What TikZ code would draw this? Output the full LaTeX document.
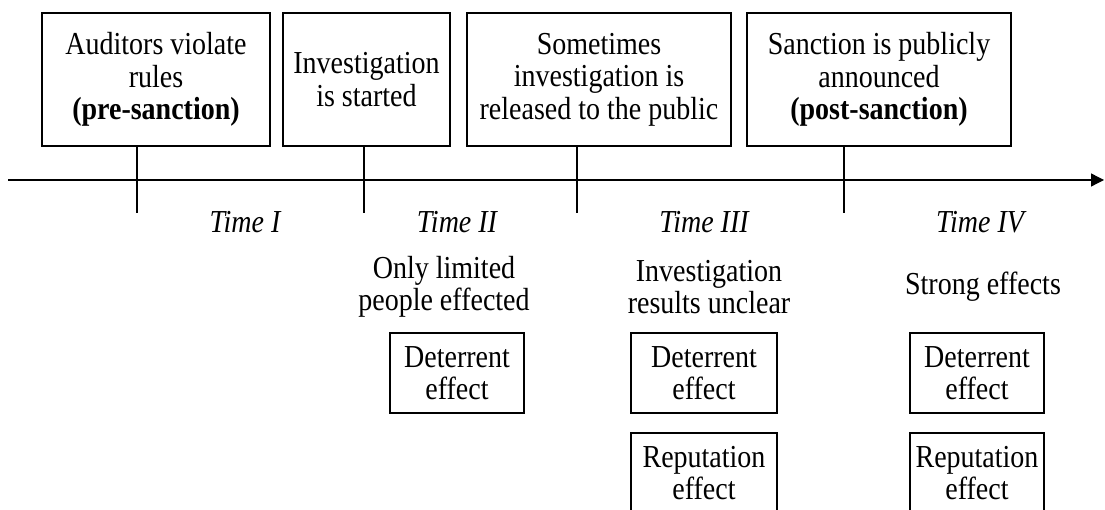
\documentclass[tikz,border=0pt]{standalone}
\usepackage{fontspec}
\setmainfont{Liberation Serif}[FakeStretch=0.875]
\usetikzlibrary{arrows.meta}
\tikzset{
  every node/.style={font=\fontsize{32}{32.5}\selectfont},
  topbox/.style={draw, line width=1.3pt, rectangle, inner sep=0pt, align=center, minimum height=133pt},
  effbox/.style={draw, line width=1.3pt, rectangle, inner sep=0pt, align=center, minimum height=80pt},
  tick/.style={line width=1.3pt},
  timelbl/.style={font=\fontsize{32}{32.5}\selectfont\itshape},
  note/.style={align=center, inner sep=0pt}
}
\begin{document}
\begin{tikzpicture}[x=1pt,y=1pt]
\useasboundingbox (0,0) rectangle (1105,-510);
% top boxes
\node[topbox, minimum width=228pt] (b1) at (156,-79.5) {Auditors violate\\rules\\\textbf{(pre-sanction)}};
\node[topbox, minimum width=167pt] (b2) at (366.5,-79.5) {Investigation\\is started};
\node[topbox, minimum width=264pt] (b3) at (599,-79.5) {Sometimes\\investigation is\\released to the public};
\node[topbox, minimum width=264pt] (b4) at (879,-79.5) {Sanction is publicly\\announced\\\textbf{(post-sanction)}};
% axis
\coordinate (axs) at (8,-180);
\coordinate (axe) at (1104,-180);
\draw[line width=1.3pt, -{Triangle[length=13pt,width=13pt]}] (axs) -- (axe);
% ticks
\coordinate (t1) at (137,-213);
\coordinate (t2) at (364,-213);
\coordinate (t3) at (577,-213);
\coordinate (t4) at (844,-213);
\draw[tick] (b1.south -| t1) -- (t1);
\draw[tick] (b2.south -| t2) -- (t2);
\draw[tick] (b3.south -| t3) -- (t3);
\draw[tick] (b4.south -| t4) -- (t4);
% time labels
\node[timelbl] (l1) at (245,-222) {Time I};
\node[timelbl] (l2) at (457,-222) {Time II};
\node[timelbl] (l3) at (704,-222) {Time III};
\node[timelbl] (l4) at (980,-222) {Time IV};
% notes
\node[note] (n2) at (444,-287) {Only limited\\people effected};
\node[note] (n3) at (709,-287) {Investigation\\results unclear};
\node[note] (n4) at (983,-287) {Strong effects};
% effect boxes
\node[effbox, minimum width=134pt] (d2) at (457,-373) {Deterrent\\effect};
\node[effbox, minimum width=146pt] (d3) at (704,-373) {Deterrent\\effect};
\node[effbox, minimum width=134pt] (d4) at (977,-373) {Deterrent\\effect};
\node[effbox, minimum width=146pt] (r3) at (704,-473) {Reputation\\effect};
\node[effbox, minimum width=134pt] (r4) at (977,-473) {Reputation\\effect};
\end{tikzpicture}
\end{document}
